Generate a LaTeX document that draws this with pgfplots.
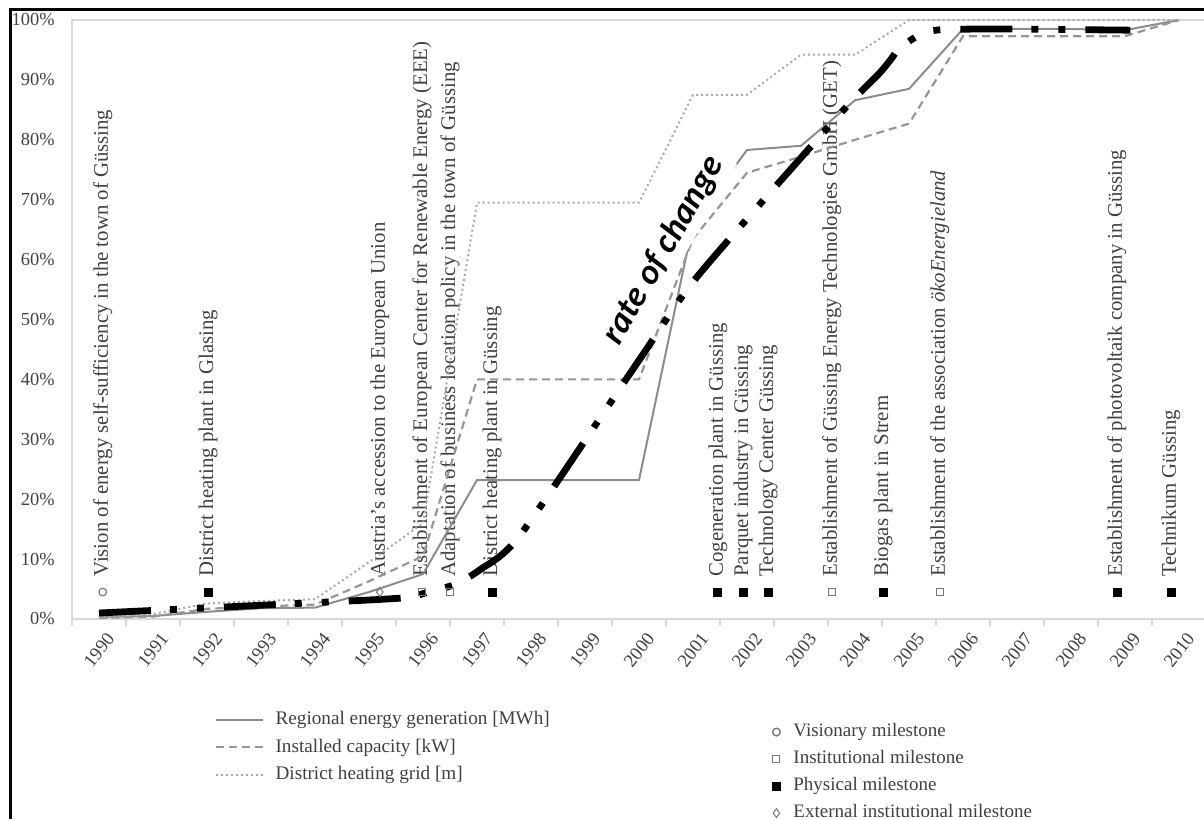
\documentclass[border=0pt]{standalone}
\usepackage{fontspec}
\setmainfont{Liberation Serif}
\newfontfamily\carlito{Carlito}
\usepackage{pgfplots}
\pgfplotsset{compat=1.18}
\definecolor{axisgrey}{RGB}{217,217,217}
\definecolor{textgrey}{RGB}{64,64,64}
\definecolor{solidgrey}{RGB}{140,140,140}
\definecolor{dashgrey}{RGB}{150,150,150}
\definecolor{dotgrey}{RGB}{170,170,170}
\definecolor{markgrey}{RGB}{120,120,120}
\begin{document}
\begin{tikzpicture}
\path[use as bounding box] (0,0) rectangle (602pt,409.5pt);
\clip (0,0) rectangle (602pt,409.5pt);
\begin{axis}[
 at={(36pt,100pt)}, anchor=south west,
 scale only axis, width=567pt, height=299.5pt,
 xmin=1989.5, xmax=2010.5, ymin=0, ymax=100,
 axis line style={draw=axisgrey, line width=0.8pt},
 clip=false,
 tick align=outside,
 xtick pos=bottom, ytick pos=left,
 xtick={1990,1991,1992,1993,1994,1995,1996,1997,1998,1999,2000,2001,2002,2003,2004,2005,2006,2007,2008,2009,2010},
 xticklabels={1990,1991,1992,1993,1994,1995,1996,1997,1998,1999,2000,2001,2002,2003,2004,2005,2006,2007,2008,2009,2010},
 major tick length=0pt,
 minor tick length=3.5pt,
 minor xtick={1989.5,1990.5,1991.5,1992.5,1993.5,1994.5,1995.5,1996.5,1997.5,1998.5,1999.5,2000.5,2001.5,2002.5,2003.5,2004.5,2005.5,2006.5,2007.5,2008.5,2009.5,2010.5},
 minor x tick style={draw=axisgrey, line width=0.8pt},
 major x tick style={draw=none},
 xticklabel style={yshift=-15.5pt, rotate=52, anchor=center, inner sep=0pt, font=\fontsize{9.3}{10}\selectfont, text=textgrey},
 ytick={0,10,20,30,40,50,60,70,80,90,100},
 yticklabels={0\%,10\%,20\%,30\%,40\%,50\%,60\%,70\%,80\%,90\%,100\%},
 ytick style={draw=none},
 yticklabel style={anchor=east, inner sep=0pt, xshift=-8.5pt, font=\fontsize{9.2}{10}\selectfont, text=textgrey},
 legend style={at={(axis description cs:0.1261,-0.1533)}, anchor=north west, draw=none, fill=none, inner sep=0pt,
   font=\fontsize{9.6}{11}\selectfont, text=textgrey, row sep=5pt, column sep=5.5pt,
   nodes={inner sep=0pt, text height=6.7pt, text depth=2pt}},
 legend cell align=left,
 legend image code/.code={\draw[#1] (0pt,0pt) -- (23.5pt,0pt);},
]
% milestone labels
\begin{scope}[every node/.style={rotate=90, anchor=west, inner sep=0pt, font=\fontsize{10.4}{11}\selectfont, text=textgrey}]
\node at (axis cs:1990.07,7.0) {Vision of energy self-sufficiency in the town of Güssing};
\node at (axis cs:1992.02,7.0) {District heating plant in Glasing};
\node at (axis cs:1995.20,7.0) {Austria's accession to the European Union};
\node at (axis cs:1995.98,7.0) {Establishment of European Center for Renewable Energy (EEE)};
\node at (axis cs:1996.50,7.0) {Adaptation of business location policy in the town of Güssing};
\node at (axis cs:1997.28,7.0) {District heating plant in Güssing};
\node at (axis cs:2001.46,7.0) {Cogeneration plant in Güssing};
\node at (axis cs:2001.93,7.0) {Parquet industry in Güssing};
\node at (axis cs:2002.39,7.0) {Technology Center Güssing};
\node at (axis cs:2003.57,7.0) {Establishment of Güssing Energy Technologies GmbH (GET)};
\node at (axis cs:2004.52,7.0) {Biogas plant in Strem};
\node at (axis cs:2005.57,7.0) {Establishment of the association \textit{ökoEnergieland}};
\node at (axis cs:2008.85,7.0) {Establishment of photovoltaik company in Güssing};
\node at (axis cs:2009.85,7.0) {Technikum Güssing};
\end{scope}
% series
\addplot[solidgrey, line width=1pt] coordinates {
(1990,0.3) (1991,0.5) (1992,1.2) (1993,1.8) (1994,1.9) (1995,4.5) (1996,7.5) (1997,23.2) (1998,23.2) (1999,23.2) (2000,23.2) (2001,66) (2002,78.3) (2003,79.0) (2004,86.6) (2005,88.5) (2006,98.5) (2007,98.5) (2008,98.5) (2009,98.3) (2010,100)};
\addlegendentry{Regional energy generation [MWh]}
\addplot[dashgrey, line width=1.1pt, dash pattern=on 4pt off 2.5pt] coordinates {
(1990,0.2) (1991,0.4) (1992,1.7) (1993,2.1) (1994,2.4) (1995,6.3) (1996,10.5) (1997,40) (1998,40) (1999,40) (2000,40) (2001,63.5) (2002,74.5) (2003,77.2) (2004,80) (2005,82.7) (2006,97.3) (2007,97.3) (2008,97.3) (2009,97.3) (2010,100)};
\addlegendentry{Installed capacity [kW]}
\addplot[dotgrey, line width=1pt, dash pattern=on 1pt off 1.5pt] coordinates {
(1990,0.3) (1991,0.8) (1992,2.6) (1993,3.0) (1994,3.3) (1995,9.5) (1996,16) (1997,69.5) (1998,69.5) (1999,69.5) (2000,69.5) (2001,87.5) (2002,87.5) (2003,94.2) (2004,94.2) (2005,100) (2006,100) (2007,100) (2008,100) (2009,100) (2010,100)};
\addlegendentry{District heating grid [m]}
% milestones
\addplot[forget plot, only marks, mark=square*, mark size=2pt, black] coordinates {
(1992.02,4.5) (1997.28,4.5) (2001.46,4.5) (2001.93,4.5) (2002.39,4.5) (2004.52,4.5) (2008.85,4.5) (2009.85,4.5)};
\addplot[forget plot, only marks, mark=square, mark size=1.75pt, draw=markgrey, fill=white, mark options={line width=0.5pt}] coordinates {
(1995.98,4.5) (1996.50,4.5) (2003.57,4.5) (2005.57,4.5)};
\addplot[forget plot, only marks, mark=o, mark size=1.9pt, draw=markgrey, mark options={line width=0.6pt}] coordinates {(1990.07,4.5)};
\addplot[forget plot, only marks, mark=diamond, mark size=2.2pt, draw=markgrey, mark options={line width=0.5pt}] coordinates {(1995.20,4.5)};
% rate of change label (white box hides the grey lines under it)
\node[rotate=60, fill=white, inner xsep=3pt, inner ysep=2.5pt, font=\carlito\bfseries\itshape\fontsize{17.5}{18}\selectfont] at (axis cs:2000.46,61.5) {rate of change};
% rate of change line
\addplot[forget plot, black, line width=3.4pt, smooth, tension=0.4, dash pattern=on 26pt off 9.5pt on 3.5pt off 10pt on 3.5pt off 10pt] coordinates {
(1990.0,1.0) (1993.7,2.6) (1995.6,3.5) (1996.1,4.5) (1996.6,5.8) (1997.05,8.2) (1997.8,14.0) (2000.0,43.2) (2001.1,57.4) (2003.7,84.1) (2004.44,91) (2004.67,93.5) (2004.81,95.2) (2005.06,96.8) (2005.31,98) (2005.65,98.4) (2006.7,98.5) (2009.1,98.3)};
\end{axis}
\begin{axis}[
 at={(36pt,100pt)}, anchor=south west,
 scale only axis, width=567pt, height=299.5pt,
 xmin=1989.5, xmax=2010.5, ymin=0, ymax=100,
 hide axis,
 legend style={at={(axis description cs:0.6173,-0.1736)}, anchor=north west, draw=none, fill=none, inner sep=0pt,
   font=\fontsize{9.5}{11}\selectfont, text=textgrey, row sep=4.8pt, column sep=6.5pt,
   nodes={inner sep=0pt, text height=6.7pt, text depth=2pt}},
 legend cell align=left,
 legend image code/.code={\draw[mark repeat=2,mark phase=2,#1] plot coordinates {(0pt,0pt) (5pt,0pt) (10pt,0pt)};},
]
\addlegendimage{only marks, mark=o, mark size=1.9pt, draw=markgrey, mark options={line width=0.7pt}}
\addlegendentry{Visionary milestone}
\addlegendimage{only marks, mark=square, mark size=1.75pt, draw=markgrey, mark options={line width=0.5pt}}
\addlegendentry{Institutional milestone}
\addlegendimage{only marks, mark=square*, mark size=2pt, black}
\addlegendentry{Physical milestone}
\addlegendimage{only marks, mark=diamond, mark size=2.2pt, draw=markgrey, mark options={line width=0.5pt}}
\addlegendentry{External institutional milestone}
\end{axis}
\draw[black, line width=1.5pt] (5pt,0pt) -- (5pt,404.5pt) -- (602pt,404.5pt);
\end{tikzpicture}
\end{document}
